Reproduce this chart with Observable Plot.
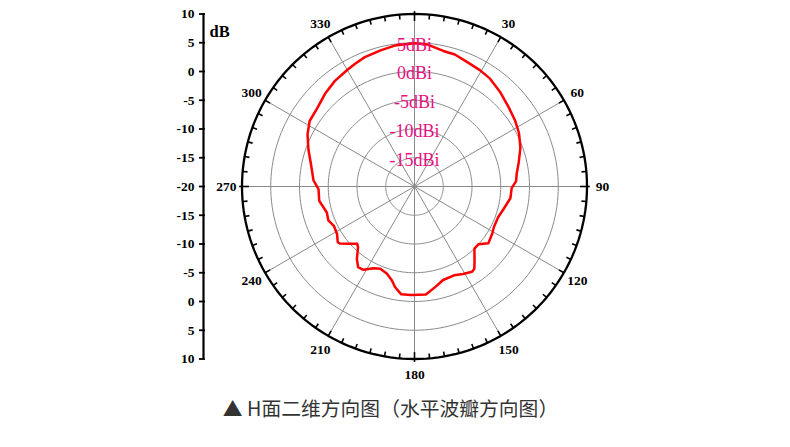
<!DOCTYPE html>
<html><head><meta charset="utf-8">
<script src="https://cdn.jsdelivr.net/npm/d3@7"></script>
<script src="https://cdn.jsdelivr.net/npm/@observablehq/plot@0.6"></script>
<style>
body{margin:0;background:#fff;width:790px;height:447px;overflow:hidden;position:relative}
#cap{font-family:"Noto Sans CJK SC","Noto Sans",sans-serif;font-size:19.8px;color:#333;text-align:center;width:781px;position:absolute;top:395px;left:0;line-height:26px}
</style></head><body><div id="chart"></div><div id="cap">▲ H面二维方向图（水平波瓣方向图）</div>
<script>
// H-plane radiation pattern, angle (deg, clockwise from top) and gain (dBi)
const angleDeg = [0,5,12,17,23,29.5,35,42,50,57,63,70,77,83,87,91,97,104,110,117,121,127.5,132,136,141,144,146,151,156,163,168,174,182,187,191,193.5,197.5,202.5,206.5,211.5,215,218.5,223,225,229,232.5,234,238.5,244,248.5,253.5,258.5,261.5,268.5,273.5,282,289,296,302,308.5,316,323,330,334,339,346,352,360];
const gainDb =   [4.9,4.8,4.1,4.0,3.5,3.2,2.9,2.2,1.4,0.9,0.4,-0.4,-1.4,-2.1,-2.3,-3.1,-3.2,-4.0,-4.5,-4.5,-4.2,-3.8,-5.0,-5.0,-3.4,-2.3,-2.1,-2.6,-3.1,-3.0,-2.2,-1.1,-1.1,-1.1,-2.2,-3.2,-4.1,-4.5,-4.1,-3.0,-2.9,-3.9,-5.6,-5.9,-4.8,-3.7,-3.5,-4.2,-4.4,-3.9,-4.1,-3.6,-3.25,-3.3,-2.4,-1.6,-0.5,0.7,1.5,1.7,2.4,3.0,3.4,3.7,4.1,4.4,4.75,4.9];
const ringDb = [-15,-10,-5,0,5];
const ringLabels = ["-15dBi","-10dBi","-5dBi","0dBi","5dBi"];
const angleLabels = [30,60,90,120,150,180,210,240,270,300,330];
const axisTicks = [10,5,0,-5,-10,-15,-20,-15,-10,-5,0,5,10];
const MIN_DB = -20, MAX_DB = 10, R = MAX_DB - MIN_DB;

const rad = Math.PI / 180;
const px = (a, r) => r * Math.sin(a * rad);
const py = (a, r) => r * Math.cos(a * rad);
const circle = d3.range(0, 361, 2);

const pattern = angleDeg.map((a, i) => ({x: px(a, gainDb[i] - MIN_DB), y: py(a, gainDb[i] - MIN_DB)}));
const rings = ringDb.flatMap(d => circle.map(a => ({ring: d, x: px(a, d - MIN_DB), y: py(a, d - MIN_DB)})));
const outer = circle.map(a => ({x: px(a, R), y: py(a, R)}));
const spokes = d3.range(0, 360, 30).map(a => ({x1: 0, y1: 0, x2: px(a, R), y2: py(a, R)}));
const tickAngles = d3.range(0, 360, 5);
const ticks = tickAngles.map(a => {
  const card = a % 90 === 0, major = a % 30 === 0;
  const r1 = card ? R + 0.5 : R, r2 = card ? R - 1.2 : major ? R - 1.0 : R - 0.85;
  return {x1: px(a, r1), y1: py(a, r1), x2: px(a, r2), y2: py(a, r2)};
});
const angleText = angleLabels.map(a => ({t: String(a), x: px(a, R + 2.7), y: py(a, R + 2.7)}));
const ringText = ringDb.map((d, i) => ({t: ringLabels[i], x: 0, y: d - MIN_DB}));
// axis positions (radius units, mirrored: label = |y| + MIN_DB)
const axisPos = axisTicks.map((v, i) => (i < 6 ? 1 : i === 6 ? 0 : -1) * (v - MIN_DB));
const AXIS_X = -R - (241.5 - 203) / 5.75;

const serif = "'Liberation Serif','Times New Roman',serif";
const chart = Plot.plot({
  width: 790, height: 390,
  marginLeft: 203, marginTop: 13.5, marginBottom: 31.5, marginRight: 0,
  x: {domain: [-R, R], range: [241.5, 586.5], axis: null},
  y: {domain: [-R, R], range: [358.5, 13.5]},
  style: {background: "white"},
  marks: [
    Plot.line(rings, {x: "x", y: "y", z: "ring", stroke: "#8a8a8a", strokeWidth: 1}),
    Plot.link(spokes, {x1: "x1", y1: "y1", x2: "x2", y2: "y2", stroke: "#8a8a8a", strokeWidth: 1}),
    Plot.line(pattern, {x: "x", y: "y", stroke: "#ff0000", strokeWidth: 2.5}),
    Plot.line(outer, {x: "x", y: "y", stroke: "black", strokeWidth: 2.3}),
    Plot.link(ticks, {x1: "x1", y1: "y1", x2: "x2", y2: "y2", stroke: "black", strokeWidth: 1.6}),
    Plot.text(angleText, {x: "x", y: "y", text: "t", fill: "black", fontSize: 13.5, fontWeight: "bold", fontFamily: serif}),
    Plot.text(ringText, {x: "x", y: "y", text: "t", fill: "#ea0f80", fontSize: 18, fontFamily: serif, dy: 2}),
    Plot.ruleX([AXIS_X], {y1: -R, y2: R, stroke: "black", strokeWidth: 2.2}),
    Plot.ruleY(axisPos, {x1: AXIS_X - 0.7, x2: AXIS_X + 0.35, stroke: "black", strokeWidth: 1.8}),
    Plot.axisY({anchor: "left", ticks: axisPos, tickFormat: (d, i) => axisTicks[i], tickSize: 0, tickPadding: 9, label: null,
      fontWeight: "bold", fontSize: 13.5, fontFamily: serif, fill: "black"}),
    Plot.text(["dB"], {frameAnchor: "top-left", dx: 6, dy: 11, fontSize: 16.5, fontWeight: "bold", fontFamily: serif, fill: "black"})
  ]
});
document.getElementById("chart").appendChild(chart);
</script></body></html>
